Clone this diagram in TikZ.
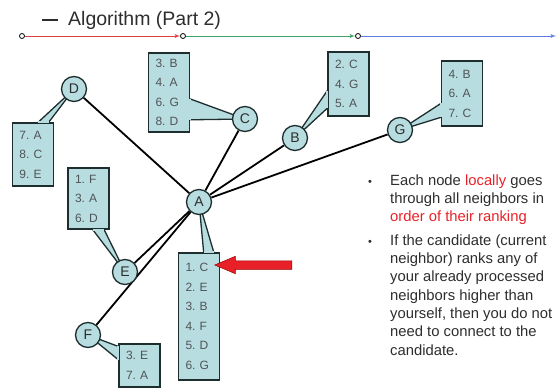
\documentclass[tikz,border=0pt]{standalone}
\usepackage{fontspec}
\setmainfont{Liberation Sans}
\usepackage{tikz}
\usetikzlibrary{arrows,calc,positioning,shapes,shapes.arrows}
\pgfdeclarelayer{background}
\pgfdeclarelayer{foreground}
\pgfsetlayers{background,main,foreground}

\definecolor{boxfill}{RGB}{183,221,224}
\definecolor{boxline}{RGB}{30,45,45}
\definecolor{listgray}{RGB}{80,84,86}
\definecolor{textgray}{RGB}{45,45,45}
\definecolor{hotred}{RGB}{232,32,40}
\definecolor{lineRed}{RGB}{222,62,62}
\definecolor{lineGreen}{RGB}{64,162,104}
\definecolor{lineBlue}{RGB}{92,124,228}

% wedge from a stretch of one box side (#1 to #2, fractions #3 and #4) to node #5
\newcommand{\rankpin}[5]{%
	\filldraw [fill=boxfill, draw=boxline, line width=1.3pt] ($(#1)!#3!(#2)$) -- (#5.center) -- ($(#1)!#4!(#2)$);}
% hides the box border where the wedge joins it
\newcommand{\rankseam}[4]{%
	\draw [boxfill, line width=2pt] ($(#1)!#3!(#2)$) -- ($(#1)!#4!(#2)$);}

\begin{document}
\begin{tikzpicture}[x=1pt,y=-1pt,auto,on grid,>=latex']
	\tikzstyle{peer} = [draw=boxline, fill=boxfill, circle, line width=1.3pt, minimum size=25pt, inner sep=0pt, font=\fontsize{14}{14}\selectfont, text=textgray]
	\tikzstyle{rank} = [draw=boxline, fill=boxfill, rectangle, line width=1.3pt, text width=27pt, inner xsep=7pt, inner ysep=0pt, align=left, font=\fontsize{12}{19.5}\selectfont\frenchspacing, text=listgray]
	\tikzstyle{station} = [draw, circle, fill=white, line width=0.8pt, minimum size=5pt, inner sep=0pt]
	\tikzstyle{link} = [line width=1.8pt]
	\tikzstyle{note} = [anchor=north west, inner sep=0pt, align=left, text=textgray, font=\fontsize{14.8}{18.3}\selectfont]
	\tikzstyle{dot} = [anchor=base, inner sep=0pt, text=textgray, font=\fontsize{11}{11}\selectfont]
	\tikzstyle{pointer} = [single arrow, fill=hotred, draw=red!60!black, line width=0.5pt, minimum height=77pt, inner xsep=0pt, inner ysep=4pt, single arrow head extend=4.5pt, single arrow tip angle=46, shape border rotate=180]

	\useasboundingbox (0,0) rectangle (556,390);

	\node [anchor=base west, inner sep=0pt, text=textgray, font=\fontsize{19.5}{19.5}\selectfont] (title) at (42,26) {\rule[5pt]{16pt}{1.6pt}\hspace{10pt}Algorithm (Part 2)};

	\node [station] (t1) at (22,36) {};
	\node [station] (t2) at (183,36) {};
	\node [station] (t3) at (358,36) {};
	\node [coordinate] (tend) at (556,36) {};

	\draw [->, lineRed, line width=0.9pt] (t1) -- (t2);
	\draw [->, lineGreen, line width=0.9pt] (t2) -- (t3);
	\draw [->, lineBlue, line width=0.9pt] (t3) -- (tend);

	\node [peer] (A) at (199,202) {A};
	\node [peer, above left = 113pt and 125pt of A] (D) {D};
	\node [peer, above right = 83pt and 46pt of A] (C) {C};
	\node [peer, above right = 64pt and 96pt of A] (B) {B};
	\node [peer, above right = 72pt and 201pt of A] (G) {G};
	\node [peer, below left = 70pt and 74pt of A] (E) {E};
	\node [peer, below left = 133pt and 111pt of A] (F) {F};

	\node [rank, minimum height=63pt, below left = 65.5pt and 41pt of D] (Dlist) {7. A\\8. C\\9. E};
	\node [rank, minimum height=79pt, above left = 26.5pt and 76pt of C] (Clist) {3. B\\4. A\\6. G\\8. D};
	\node [rank, minimum height=64pt, above right = 54pt and 53.5pt of B] (Blist) {2. C\\4. G\\5. A};
	\node [rank, minimum height=65pt, above right = 36.5pt and 62pt of G] (Glist) {4. B\\6. A\\7. C};
	\node [rank, minimum height=61pt, above left = 73.5pt and 36.5pt of E] (Elist) {1. F\\3. A\\6. D};
	\node [rank, minimum height=127pt, below = 114.5pt of A] (Alist) {1. C\\2. E\\3. B\\4. F\\5. D\\6. G};
	\node [rank, minimum height=43pt, below right = 30.5pt and 51.5pt of F] (Flist) {3. E\\7. A};

	\begin{pgfonlayer}{background}
	\draw [link] (A) -- (D);
	\draw [link] (A) -- (C);
	\draw [link] (A) -- (B);
	\draw [link] (A) -- (G);
	\draw [link] (A) -- (E);
	\draw [link] (A) -- (F);

	\rankpin{Dlist.north west}{Dlist.north east}{0.62}{0.87}{D}
	\rankpin{Clist.north east}{Clist.south east}{0.58}{0.84}{C}
	\rankpin{Blist.north west}{Blist.south west}{0.6}{0.87}{B}
	\rankpin{Glist.north west}{Glist.south west}{0.65}{0.86}{G}
	\rankpin{Elist.south west}{Elist.south east}{0.6}{0.87}{E}
	\rankpin{Alist.north west}{Alist.north east}{0.61}{0.85}{A}
	\rankpin{Flist.north west}{Flist.south west}{0.07}{0.37}{F}
	\end{pgfonlayer}

	\begin{pgfonlayer}{foreground}
	\rankseam{Dlist.north west}{Dlist.north east}{0.62}{0.87}
	\rankseam{Clist.north east}{Clist.south east}{0.58}{0.84}
	\rankseam{Blist.north west}{Blist.south west}{0.6}{0.87}
	\rankseam{Glist.north west}{Glist.south west}{0.65}{0.86}
	\rankseam{Elist.south west}{Elist.south east}{0.6}{0.87}
	\rankseam{Alist.north west}{Alist.north east}{0.61}{0.85}
	\rankseam{Flist.north west}{Flist.south west}{0.07}{0.37}
	\end{pgfonlayer}

	\node [pointer, anchor=tip] (hint) at ([xshift=-6pt, yshift=51.5pt]Alist.east) {};

	\node [dot] (dot1) at (370,185) {\textbullet};
	\node [note] (note1) at (390,174.4) {Each node \textcolor{hotred}{locally} goes\\through all neighbors in\\\textcolor{hotred}{order of their ranking}};
	\node [dot] (dot2) at (370,245) {\textbullet};
	\node [note] (note2) at (390,234.4) {If the candidate (current\\neighbor) ranks any of\\your already processed\\neighbors higher than\\yourself, then you do not\\need to connect to the\\candidate.};

\end{tikzpicture}
\end{document}
